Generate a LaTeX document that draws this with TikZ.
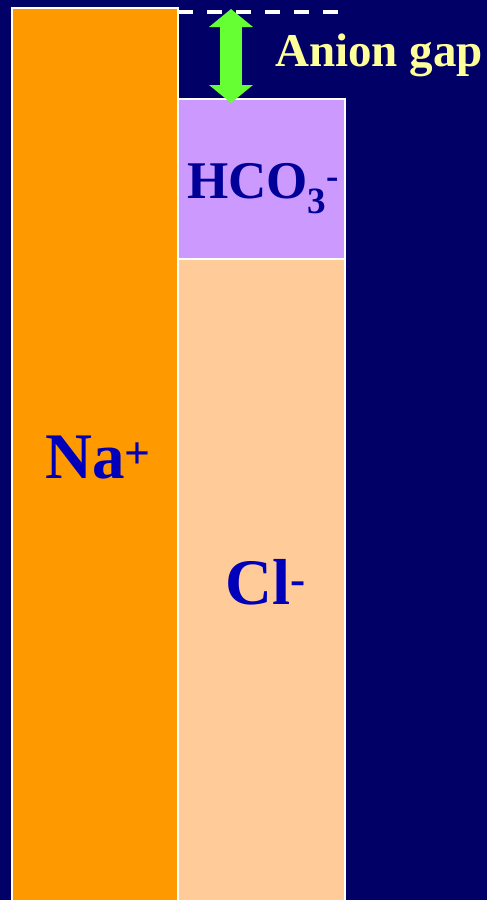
\documentclass[tikz,border=0pt]{standalone}
\usepackage{fontspec}
\setmainfont{Liberation Serif}
\usepackage{tikz}
\usetikzlibrary{arrows.meta,positioning,calc}
\definecolor{Navy}{HTML}{000066}
\definecolor{NaOrange}{HTML}{FF9900}
\definecolor{ClPeach}{HTML}{FFCC99}
\definecolor{HcoLilac}{HTML}{CC99FF}
\definecolor{IonBlue}{HTML}{0000BB}
\definecolor{HcoBlue}{HTML}{000099}
\definecolor{GapYellow}{HTML}{FFFF99}
\definecolor{GapGreen}{HTML}{66FF33}

\begin{document}
\begin{tikzpicture}[x=1pt, y=-1pt,
  bar/.style={draw=white, line width=1.5pt, anchor=north west, inner sep=0pt, outer sep=0pt, minimum width=166pt},
  ion/.style={anchor=base west, inner sep=0pt, text=IonBlue, font=\bfseries\fontsize{65}{65}\selectfont},
  gapline/.style={draw=white, line width=3.5pt, dash pattern=on 15pt off 14pt},
  gaparrow/.style={draw=GapGreen, line width=22pt, {Triangle[width=43pt,length=18pt]}-{Triangle[width=43pt,length=18pt]}}]
  \fill[Navy] (0,0) rectangle (487,900);
  \useasboundingbox (0,0) rectangle (487,900);

  % columns
  \node[bar, fill=NaOrange, minimum height=900pt] (na) at (12,8) {};
  \node[bar, fill=HcoLilac, minimum width=167pt, minimum height=160pt] (hco) at (178,99) {};
  \node[bar, fill=ClPeach, minimum width=167pt, minimum height=660pt] (cl) at (178,259) {};

  % ion labels
  \node[ion] (nalabel) at (45,478) {Na\textsuperscript{+}};
  \node[ion] (cllabel) at (225,604) {Cl\textsuperscript{-}};
  \node[ion, text=HcoBlue, font=\bfseries\fontsize{53}{53}\selectfont] (hcolabel) at (187,198) {HCO\textsubscript{3}\textsuperscript{-}};

  % anion gap
  \coordinate (dashend) at (341,12);
  \coordinate (gaptop) at (231,9);
  \draw[gapline] (na.north east |- dashend) -- (dashend);
  \draw[gaparrow, shorten >=-4pt] (gaptop) -- (gaptop |- hco.north);
  \node[anchor=base west, inner sep=0pt, text=GapYellow, font=\bfseries\fontsize{47}{47}\selectfont] (gaplabel) at (275,66) {Anion gap};
\end{tikzpicture}
\end{document}
